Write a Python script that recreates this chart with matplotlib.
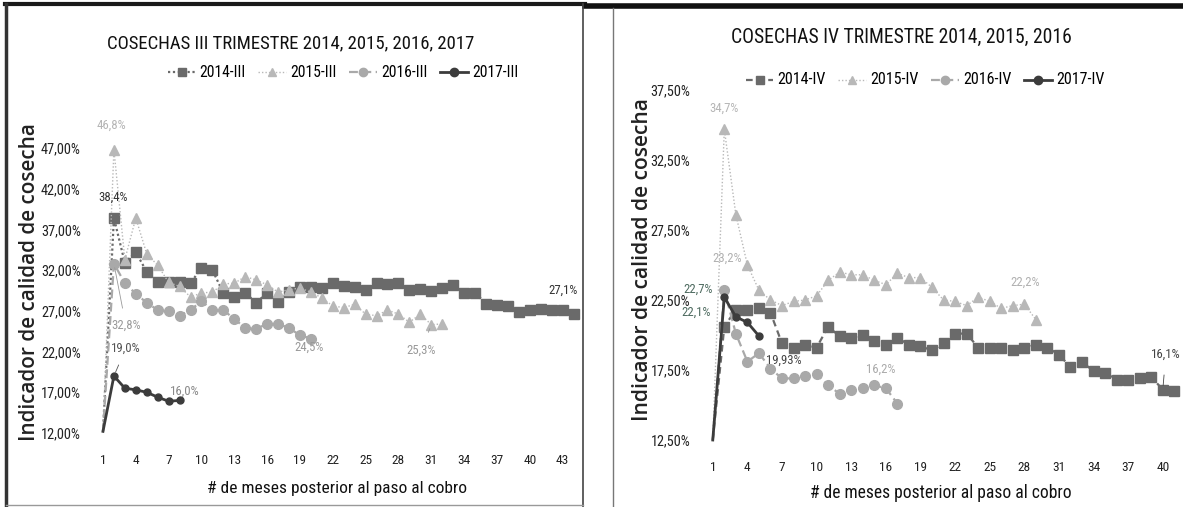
import matplotlib
matplotlib.use("Agg")
from matplotlib import pyplot as plt
from matplotlib import font_manager
from matplotlib.lines import Line2D

# ---- data (values in %) ----
meses_iii = list(range(1, 45))
c2014_iii = [12.2, 38.4, 32.9, 34.2, 31.8, 30.5, 30.5, 30.5, 30.4, 32.3, 32.0, 29.2, 28.7, 29.2,
             28.0, 29.2, 28.1, 29.3, 29.9, 29.9, 29.8, 30.4, 30.0, 29.9, 29.6, 30.4, 30.3, 30.4,
             29.6, 29.7, 29.5, 29.8, 30.2, 29.2, 29.2, 27.9, 27.7, 27.6, 26.8, 27.1, 27.2, 27.1,
             27.1, 26.6]
c2015_iii = [12.2, 46.8, 33.3, 38.4, 34.0, 32.6, 30.5, 30.0, 28.7, 29.2, 29.3, 30.3, 30.4, 31.2,
             30.8, 30.2, 29.3, 29.6, 29.8, 29.3, 28.6, 27.6, 27.4, 27.8, 26.6, 26.4, 27.1, 26.6,
             25.6, 26.6, 25.3, 25.4]
c2016_iii = [12.2, 32.8, 30.4, 29.1, 28.0, 27.1, 27.0, 26.4, 27.1, 28.2, 27.1, 27.1, 26.0, 24.9,
             24.8, 25.4, 25.4, 24.9, 24.0, 23.6]
c2017_iii = [12.2, 19.0, 17.5, 17.3, 17.0, 16.4, 15.9, 16.0]

meses_iv = list(range(1, 42))
c2014_iv = [12.5, 20.6, 21.8, 21.8, 21.9, 21.6, 19.4, 19.1, 19.3, 19.1, 20.6, 19.9, 19.8, 20.0,
            19.6, 19.3, 19.8, 19.3, 19.2, 18.9, 19.4, 20.1, 20.1, 19.1, 19.1, 19.1, 18.9, 19.1,
            19.3, 19.1, 18.6, 17.7, 18.1, 17.4, 17.3, 16.8, 16.8, 16.9, 17.0, 16.1, 16.0]
c2015_iv = [12.5, 34.7, 28.6, 25.0, 23.2, 22.5, 22.1, 22.4, 22.5, 22.8, 23.9, 24.5, 24.3, 24.3,
            23.9, 23.6, 24.4, 24.1, 24.1, 23.4, 22.5, 22.4, 22.1, 22.7, 22.4, 21.9, 22.1, 22.2, 21.1]
c2016_iv = [12.5, 23.2, 20.1, 18.1, 18.7, 17.6, 16.9, 16.9, 17.1, 17.2, 16.4, 15.8, 16.1, 16.2,
            16.4, 16.2, 15.1]
c2017_iv = [12.5, 22.7, 21.3, 20.9, 19.93]

yticks_iii = [12, 17, 22, 27, 32, 37, 42, 47]
yticks_iv = [12.5, 17.5, 22.5, 27.5, 32.5, 37.5]
xticks_iii = list(range(1, 44, 3))
xticks_iv = list(range(1, 41, 3))

W, H = 1183, 507
names = {f.name for f in font_manager.fontManager.ttflist}
narrow = [n for n in ("Liberation Sans Narrow", "Roboto Condensed", "Open Sans Condensed")
          if n in names]
NARROW = narrow[0] if narrow else "Liberation Sans"
plt.rcParams["font.family"] = [NARROW, "DejaVu Sans"]

fig = plt.figure(figsize=(W / 100, H / 100), dpi=100)
renderer = fig.canvas.get_renderer()


def px_rect(x0, y0, x1, y1):
    # pixel box (top-left origin) -> figure fraction
    return [x0 / W, 1 - y1 / H, (x1 - x0) / W, (y1 - y0) / H]


def fit(t, target, vertical=False):
    # shrink/grow a text so it covers the same pixel length as in the scan
    bb = t.get_window_extent(renderer)
    size = bb.height if vertical else bb.width
    t.set_fontsize(t.get_fontsize() * target / size)
    return t.get_fontsize()


# styles per year
st2014 = dict(color="#6a6a6a", marker="s", markersize=7.5, lw=1.6)
st2015 = dict(color="#b8b8b8", marker="^", markersize=7, lw=1.0, ls=(0, (1, 1.5)))
st2016 = dict(color="#a9a9a9", marker="o", markersize=7, lw=1.6, ls=(0, (4, 2)))
st2017 = dict(color="#3c3c3c", marker="o", markersize=5, lw=2.0, ls="-")


def setup(ax, yt, xt, xlim):
    for s in ax.spines.values():
        s.set_visible(False)
    ax.set_yticks(yt)
    ax.set_yticklabels([("%.2f%%" % v).replace(".", ",") for v in yt])
    ax.set_xticks(xt)
    ax.set_xlim(*xlim)
    ax.set_ylim(yt[0], yt[-1])
    ax.tick_params(length=0, labelsize=10, labelcolor="#222222")
    ax.tick_params(axis="x", pad=15)
    ax.tick_params(axis="y", pad=12)
    # y tick label "47,00%" is about 40 px wide in the scan, "10" about 13 px
    ax.tick_params(axis="y", labelsize=fit(ax.get_yticklabels()[-1], 40))
    ax.tick_params(axis="x", labelsize=fit(ax.get_xticklabels()[3], 13))


def label(ax, x, y, txt, dx, dy, color, lead=None):
    t = ax.annotate(txt, xy=(x, y), xytext=(dx, dy), textcoords="offset pixels",
                    ha="center", va="center", fontsize=8, color=color,
                    arrowprops=None if lead is None else dict(arrowstyle="-", color=color, lw=0.6,
                                                              shrinkA=lead, shrinkB=3))
    fit(t, 6 * len(txt))


def series(ax, x, y, name, **st):
    ax.plot(x[:len(y)], y, label=name, clip_on=False, markevery=slice(1, None), **st)


def legend(ax, cx, cy, width):
    lg = ax.legend(loc="center", bbox_to_anchor=(cx / W, 1 - cy / H), bbox_transform=fig.transFigure,
                   ncol=4, frameon=False, fontsize=10, handlelength=2.0, columnspacing=0.9,
                   handletextpad=0.3, borderpad=0)
    s = fit(lg.get_texts()[0], width)
    for t in lg.get_texts():
        t.set_fontsize(s)
    for h in lg.legend_handles:
        h.set_markersize(6)


# ---------------- left chart ----------------
ax1 = fig.add_axes(px_rect(97.5, 148, 579, 433))
series(ax1, meses_iii, c2014_iii, "2014-III", ls=(0, (1, 1.2)), **st2014)
series(ax1, meses_iii, c2015_iii, "2015-III", **st2015)
series(ax1, meses_iii, c2016_iii, "2016-III", **st2016)
series(ax1, meses_iii, c2017_iii, "2017-III", **st2017)
setup(ax1, yticks_iii, xticks_iii, (0.5, 44.5))

label(ax1, 2, c2015_iii[1], "46,8%", -2, 24, "#b5b5b5")
label(ax1, 2, c2014_iii[1], "38,4%", -1, 21, "#333333")
label(ax1, 2, c2016_iii[1], "32,8%", 12, -62, "#9a9a9a", lead=6)
label(ax1, 2, c2017_iii[1], "19,0%", 12, 28, "#555555", lead=6)
label(ax1, 8, c2017_iii[7], "16,0%", 5, 9, "#8a8a8a")
label(ax1, 20, c2016_iii[19], "24,5%", -2, -9, "#999999")
label(ax1, 31, c2015_iii[30], "25,3%", -10, -26, "#999999", lead=7)
label(ax1, 43, c2014_iii[42], "27,1%", 0, 20, "#333333")

t = fig.text(291 / W, 1 - 43 / H, "COSECHAS III TRIMESTRE 2014, 2015, 2016, 2017",
             ha="center", va="center", fontsize=16, color="#111111")
fit(t, 370)
t = fig.text(337 / W, 1 - 488 / H, "# de meses posterior al paso al cobro",
             ha="center", va="center", fontsize=14, color="#111111")
fit(t, 260)
t = fig.text(30 / W, 1 - 282 / H, "Indicador de calidad de cosecha", rotation=90,
             ha="center", va="center", fontsize=13.5, color="#222222",
             family=["Open Sans", "DejaVu Sans"], fontweight="semibold")
fit(t, 318, vertical=True)
legend(ax1, 343, 72, 46)

# ---------------- right chart ----------------
ax2 = fig.add_axes(px_rect(707, 90, 1183, 440))
series(ax2, meses_iv, c2014_iv, "2014-IV", ls=(0, (3, 2)), **st2014)
series(ax2, meses_iv, c2015_iv, "2015-IV", **st2015)
series(ax2, meses_iv, c2016_iv, "2016-IV", **st2016)
series(ax2, meses_iv, c2017_iv, "2017-IV", **st2017)
setup(ax2, yticks_iv, xticks_iv, (0.5, 41.75))

label(ax2, 2, c2015_iv[1], "34,7%", 0, 21, "#b5b5b5")
label(ax2, 2, c2016_iv[1], "23,2%", 3, 32, "#b0b0b0")
label(ax2, 2, c2017_iv[1], "22,7%", -26, 8, "#4d6a5f")
label(ax2, 2, c2014_iv[1], "22,1%", -28, 14, "#4d6a5f")
label(ax2, 5, c2017_iv[4], "19,93%", 25, -24, "#444444")
label(ax2, 16, c2016_iv[15], "16,2%", -5, 19, "#aaaaaa")
label(ax2, 28, c2015_iv[27], "22,2%", 1, 22, "#b0b0b0")
label(ax2, 40, c2014_iv[39], "16,1%", 3, 35, "#444444", lead=8)

t = fig.text(901 / W, 1 - 37 / H, "COSECHAS IV TRIMESTRE 2014, 2015, 2016",
             ha="center", va="center", fontsize=16, color="#111111")
fit(t, 342)
t = fig.text(941 / W, 1 - 493 / H, "# de meses posterior al paso al cobro",
             ha="center", va="center", fontsize=14, color="#111111")
fit(t, 263)
t = fig.text(642 / W, 1 - 260 / H, "Indicador de calidad de cosecha", rotation=90,
             ha="center", va="center", fontsize=13.5, color="#222222",
             family=["Open Sans", "DejaVu Sans"], fontweight="semibold")
fit(t, 322, vertical=True)
legend(ax2, 925, 80, 48)


# panel frames (scanned screenshot borders)
def fline(xs, ys, lw, c):
    fig.add_artist(Line2D([x / W for x in xs], [1 - y / H for y in ys], lw=lw, color=c))


fline([5, 585], [4, 4], 3, "#1a1a1a")
fline([6, 6], [4, 507], 2.5, "#333333")
fline([585, 1183], [6, 6], 4, "#111111")
fline([583, 583], [4, 507], 1.2, "#444444")
fline([613, 613], [8, 507], 1, "#777777")
fline([6, 583], [505, 505], 1, "#999999")

fig.savefig("out.png", dpi=100)
